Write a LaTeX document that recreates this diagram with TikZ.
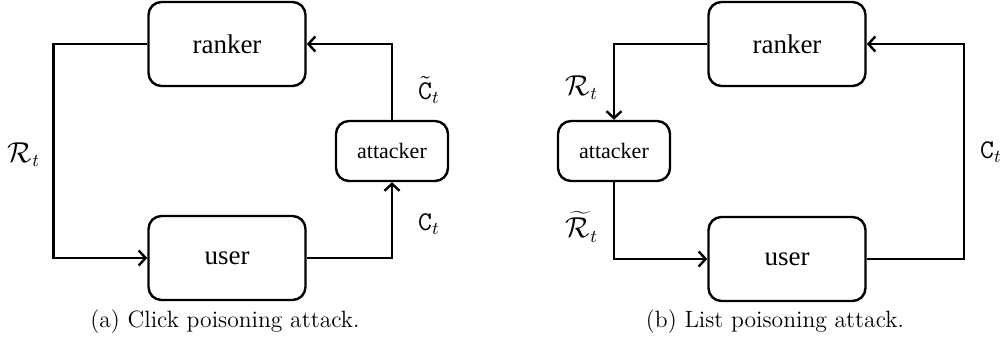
\documentclass[tikz,border=0pt]{standalone}
\usepackage{fontspec}
\newfontfamily\boxfont{Liberation Serif}
\usetikzlibrary{positioning,arrows.meta}

\tikzset{
  block/.style={draw,line width=1.2pt,rounded corners=6.5pt,minimum width=78.5pt,minimum height=42pt,
    font=\boxfont\fontsize{13.5}{16}\selectfont},
  smallblock/.style={block,minimum width=56pt,minimum height=30pt,font=\boxfont\fontsize{11}{13}\selectfont},
  flow/.style={-{Straight Barb[length=3.5pt,width=7.5pt]},line width=1.2pt},
  lab/.style={font=\fontsize{13.5}{16}\selectfont},
  caption/.style={font=\fontsize{11.8}{14}\selectfont},
}

\begin{document}
\begin{tikzpicture}[x=0.5pt,y=-0.5pt]
\useasboundingbox (0,0) rectangle (1008,341);

% Click poisoning
  \node[block] (rk1) at (227,44) {ranker};
  \node[block] (us1) at (227,258) {user};
  \node[smallblock] (at1) at (392,151) {attacker};

  \draw[flow] (rk1.west) -- ++(-94,0) |- (us1.west);
  \draw[flow] (us1.east) -| (at1.south);
  \draw[flow] (at1.north) |- (rk1.east);

  \node[lab] (r1) at (24,155) {$\mathcal{R}_t$};
  \node[lab] (ct1) at (429,90) {$\tilde{\mathtt{C}}_t$};
  \node[lab] (c1) at (429,224) {$\mathtt{C}_t$};
  \node[caption] (cap1) at (225,322) {(a)\ Click poisoning attack.};

% List poisoning
  \node[block] (rk2) at (787,44) {ranker};
  \node[block] (us2) at (787,259) {user};
  \node[smallblock] (at2) at (614,151) {attacker};

  \draw[flow] (rk2.west) -| (at2.north);
  \draw[flow] (at2.south) |- (us2.west);
  \draw[flow] (us2.east) -- ++(97,0) |- (rk2.east);

  \node[lab] (r2) at (582,88) {$\mathcal{R}_t$};
  \node[lab] (rt2) at (582,227) {$\widetilde{\mathcal{R}}_t$};
  \node[lab] (c2) at (991,152) {$\mathtt{C}_t$};
  \node[caption] (cap2) at (775,322) {(b)\ List poisoning attack.};

\end{tikzpicture}
\end{document}
